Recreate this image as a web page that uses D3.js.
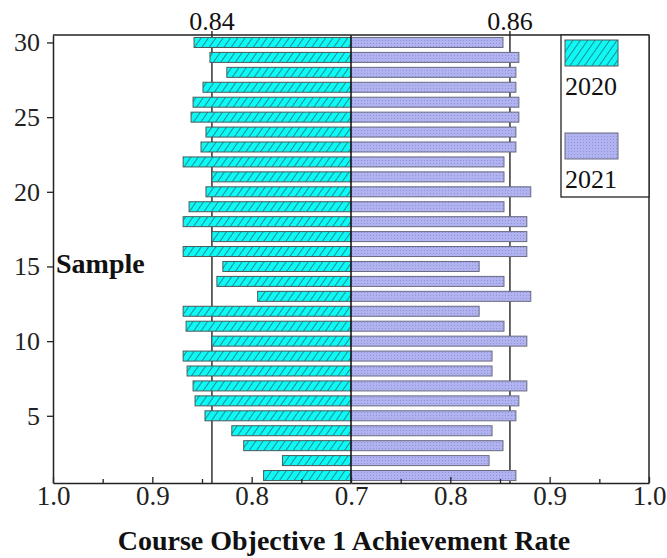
<!DOCTYPE html>
<html>
<head>
<meta charset="utf-8">
<script src="https://cdn.jsdelivr.net/npm/d3@7"></script>
<style>
  body { margin: 0; background: #fff; }
  text { font-family: "Liberation Serif", "Times New Roman", serif; }
</style>
</head>
<body>
<div id="chart"></div>
<script>
const width = 667;
const height = 558;

// samples 1..30
const samples = [1, 2, 3, 4, 5, 6, 7, 8, 9, 10, 11, 12, 13, 14, 15,
                 16, 17, 18, 19, 20, 21, 22, 23, 24, 25, 26, 27, 28, 29, 30];
const rate2020 = [0.788, 0.769, 0.808, 0.820, 0.847, 0.857, 0.859, 0.865, 0.869, 0.840,
                  0.866, 0.869, 0.794, 0.835, 0.829, 0.869, 0.840, 0.869, 0.863, 0.846,
                  0.840, 0.869, 0.851, 0.846, 0.861, 0.859, 0.849, 0.825, 0.842, 0.858];
const rate2021 = [0.866, 0.839, 0.853, 0.842, 0.866, 0.869, 0.877, 0.842, 0.842, 0.877,
                  0.854, 0.829, 0.881, 0.854, 0.829, 0.877, 0.877, 0.877, 0.854, 0.881,
                  0.854, 0.854, 0.866, 0.866, 0.869, 0.869, 0.866, 0.866, 0.869, 0.853];
const yTicks = [5, 10, 15, 20, 25, 30];
const xMajor = [0.7, 0.8, 0.9, 1.0];
const xMinor = [0.75, 0.85, 0.95];
const refLines = [{ side: "left", v: 0.84, label: "0.84" }, { side: "right", v: 0.86, label: "0.86" }];
const years = ["2020", "2021"];

const svg = d3.select("#chart").append("svg")
    .attr("width", width)
    .attr("height", height);

const pLeft = 53, pRight = 649, pTop = 35, pBottom = 483, mid = 351;

const xL = d3.scaleLinear().domain([0.7, 1.0]).range([mid, pLeft]);
const xR = d3.scaleLinear().domain([0.7, 1.0]).range([mid, pRight]);
const y = d3.scaleLinear().domain([0.5, 30.5]).range([pBottom, pTop]);
const barH = 10;

// patterns
const defs = svg.append("defs");
const hatch = defs.append("pattern")
    .attr("id", "hatch")
    .attr("patternUnits", "userSpaceOnUse")
    .attr("width", 6).attr("height", 6)
    .attr("patternTransform", "rotate(35)");
hatch.append("rect").attr("width", 6).attr("height", 6).attr("fill", "#0ff8f6");
hatch.append("line")
    .attr("x1", 0).attr("y1", 0).attr("x2", 0).attr("y2", 6)
    .attr("stroke", "#1a6466").attr("stroke-width", 1.4);

const dots = defs.append("pattern")
    .attr("id", "dots")
    .attr("patternUnits", "userSpaceOnUse")
    .attr("width", 3).attr("height", 3);
dots.append("rect").attr("width", 3).attr("height", 3).attr("fill", "#b0b3ef");
dots.append("rect").attr("x", 1).attr("y", 1).attr("width", 1).attr("height", 1).attr("fill", "#8f93d6");

// reference lines
refLines.forEach(r => {
    const x = r.side === "left" ? xL(r.v) : xR(r.v);
    svg.append("line")
        .attr("x1", x).attr("x2", x)
        .attr("y1", pTop - 4).attr("y2", pBottom)
        .attr("stroke", "#333").attr("stroke-width", 1.5);
    svg.append("text")
        .attr("x", x).attr("y", 30)
        .attr("text-anchor", "middle")
        .style("font-size", "26px")
        .attr("fill", "#111")
        .text(r.label);
});

// bars 2020 (left)
svg.selectAll(".b2020")
    .data(samples)
    .enter().append("rect")
    .attr("x", (d, i) => xL(rate2020[i]))
    .attr("y", d => y(d) - barH / 2)
    .attr("width", (d, i) => mid - xL(rate2020[i]))
    .attr("height", barH)
    .attr("fill", "url(#hatch)")
    .attr("stroke", "#4a5a5a")
    .attr("stroke-width", 1);

// bars 2021 (right)
svg.selectAll(".b2021")
    .data(samples)
    .enter().append("rect")
    .attr("x", mid)
    .attr("y", d => y(d) - barH / 2)
    .attr("width", (d, i) => xR(rate2021[i]) - mid)
    .attr("height", barH)
    .attr("fill", "url(#dots)")
    .attr("stroke", "#6a6a80")
    .attr("stroke-width", 1);

// center line
svg.append("line")
    .attr("x1", mid).attr("x2", mid)
    .attr("y1", pTop).attr("y2", pBottom)
    .attr("stroke", "#111").attr("stroke-width", 1.5);

// frame top + right
svg.append("line").attr("x1", pLeft).attr("x2", pRight).attr("y1", pTop).attr("y2", pTop)
    .attr("stroke", "#222").attr("stroke-width", 1.5);
svg.append("line").attr("x1", pRight).attr("x2", pRight).attr("y1", pTop).attr("y2", pBottom)
    .attr("stroke", "#222").attr("stroke-width", 1.5);

// y axis
const yAxis = svg.append("g")
    .attr("transform", `translate(${pLeft},0)`)
    .call(d3.axisLeft(y).tickValues(yTicks).tickSize(6).tickSizeOuter(0).tickPadding(7));
yAxis.select(".domain").attr("stroke", "#222").attr("stroke-width", 1.5);
yAxis.selectAll(".tick line").attr("stroke", "#222").attr("stroke-width", 1.3);
yAxis.selectAll("text").style("font-size", "26px").attr("fill", "#222")
    .style("font-family", "'Liberation Serif', serif");

// x axes (ticks point inward)
function xAxisFor(scale, values) {
    const g = svg.append("g")
        .attr("transform", `translate(0,${pBottom})`)
        .call(d3.axisBottom(scale).tickValues(values).tickSizeInner(-6).tickSizeOuter(0)
            .tickPadding(3).tickFormat(d3.format(".1f")));
    g.select(".domain").attr("stroke", "#222").attr("stroke-width", 1.5);
    g.selectAll(".tick line").attr("stroke", "#222").attr("stroke-width", 1.3);
    g.selectAll("text").style("font-size", "27px").attr("fill", "#222")
        .style("font-family", "'Liberation Serif', serif");
    const m = svg.append("g")
        .attr("transform", `translate(0,${pBottom})`)
        .call(d3.axisBottom(scale).tickValues(xMinor).tickSizeInner(-4).tickSizeOuter(0).tickFormat(""));
    m.select(".domain").remove();
    m.selectAll(".tick line").attr("stroke", "#222").attr("stroke-width", 1.3);
}
xAxisFor(xL, xMajor);
xAxisFor(xR, xMajor.slice(1));

// axis titles
svg.append("text")
    .attr("x", mid - 7).attr("y", 550)
    .attr("text-anchor", "middle")
    .style("font-size", "28px").style("font-weight", "bold")
    .attr("fill", "#111")
    .text("Course Objective 1 Achievement Rate");
svg.append("text")
    .attr("x", 56).attr("y", 273)
    .style("font-size", "28px").style("font-weight", "bold")
    .attr("fill", "#111")
    .text("Sample");

// legend
const leg = svg.append("g");
leg.append("rect")
    .attr("x", 561).attr("y", pTop)
    .attr("width", pRight - 561).attr("height", 197 - pTop)
    .attr("fill", "#fff")
    .attr("stroke", "#222").attr("stroke-width", 1.3);
const legFill = ["url(#hatch)", "url(#dots)"];
const legStroke = ["#4a5a5a", "#6a6a80"];
years.forEach((yr, i) => {
    const y0 = 40 + i * 93;
    leg.append("rect")
        .attr("x", 565).attr("y", y0)
        .attr("width", 53).attr("height", 26)
        .attr("fill", legFill[i])
        .attr("stroke", legStroke[i]).attr("stroke-width", 1);
    leg.append("text")
        .attr("x", 565).attr("y", y0 + 55)
        .style("font-size", "26px")
        .attr("fill", "#111")
        .text(yr);
});
</script>
</body>
</html>
